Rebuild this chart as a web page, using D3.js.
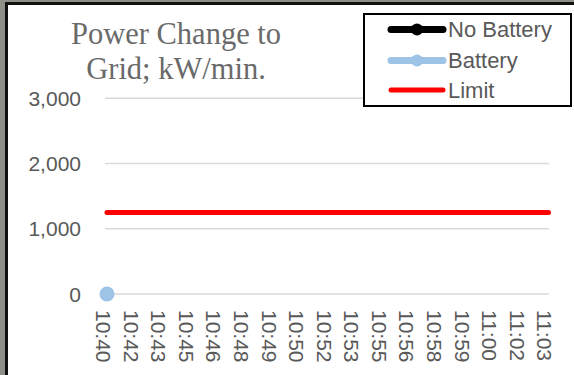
<!DOCTYPE html>
<html>
<head>
<meta charset="utf-8">
<script src="https://cdn.jsdelivr.net/npm/d3@7"></script>
<style>
  html, body { margin: 0; padding: 0; background: #8e8f88; }
  svg { display: block; }
</style>
</head>
<body>
<svg id="chart" width="574" height="375"></svg>
<script>
// Time stamps along the category axis
const times = ["10:40","10:42","10:43","10:45","10:46","10:48","10:49","10:50",
               "10:52","10:53","10:55","10:56","10:58","10:59","11:00","11:02","11:03"];
// Power change to grid (kW/min) per series; null = no reading
const noBattery = [null,null,null,null,null,null,null,null,null,null,null,null,null,null,null,null,null];
const battery   = [0,null,null,null,null,null,null,null,null,null,null,null,null,null,null,null,null];
const limit     = [1250,1250,1250,1250,1250,1250,1250,1250,1250,1250,1250,1250,1250,1250,1250,1250,1250];
const yTicks = [0, 1000, 2000, 3000];
const titleLines = ["Power Change to", "Grid; kW/min."];
const seriesNames = ["No Battery", "Battery", "Limit"];

const svg = d3.select("#chart");
const W = 574, H = 375;
const textGray = "#595959";

// Chart frame: grey surround, dark edge, white chart area
svg.append("rect").attr("width", W).attr("height", H).attr("fill", "#8e8f88");
svg.append("rect").attr("x", 5).attr("y", 2).attr("width", W).attr("height", H).attr("fill", "#111");
svg.append("rect").attr("x", 8).attr("y", 5).attr("width", W).attr("height", H).attr("fill", "#fff");

const plotLeft = 105, plotRight = 549;
const x = d3.scalePoint().domain(times).range([107, 548.5]);
const y = d3.scaleLinear().domain([0, 3000]).range([294, 98.3]);

// Horizontal gridlines
svg.append("g").selectAll("line").data(yTicks).join("line")
  .attr("x1", plotLeft).attr("x2", plotRight)
  .attr("y1", d => y(d)).attr("y2", d => y(d))
  .attr("stroke", "#d9d9d9").attr("stroke-width", 1.6);

// Y axis labels
const fmt = d3.format(",");
svg.append("g").selectAll("text").data(yTicks).join("text")
  .attr("x", 81).attr("y", d => y(d))
  .attr("dy", "0.36em")
  .attr("text-anchor", "end")
  .attr("font-family", "Liberation Sans, Arial, sans-serif")
  .attr("font-size", 21)
  .attr("fill", textGray)
  .text(d => fmt(d));

// X axis labels, rotated to read top to bottom
svg.append("g").selectAll("text").data(times).join("text")
  .attr("transform", d => `translate(${x(d) - 3.5},310) rotate(90)`)
  .attr("dy", "0.36em")
  .attr("text-anchor", "start")
  .attr("font-family", "Liberation Sans, Arial, sans-serif")
  .attr("font-size", 21)
  .attr("fill", textGray)
  .text(d => d);

// Series lines
const line = d3.line()
  .defined(d => d.v != null)
  .x(d => x(d.t)).y(d => y(d.v));
const rows = arr => times.map((t, i) => ({ t, v: arr[i] }));

svg.append("path").datum(rows(limit))
  .attr("d", line).attr("fill", "none")
  .attr("stroke", "#ff0000").attr("stroke-width", 5).attr("stroke-linecap", "round");

svg.append("path").datum(rows(noBattery))
  .attr("d", line).attr("fill", "none")
  .attr("stroke", "#000").attr("stroke-width", 7).attr("stroke-linecap", "round");
svg.append("path").datum(rows(battery))
  .attr("d", line).attr("fill", "none")
  .attr("stroke", "#9dc3e6").attr("stroke-width", 7).attr("stroke-linecap", "round");

svg.append("g").selectAll("circle").data(rows(noBattery).filter(d => d.v != null)).join("circle")
  .attr("cx", d => x(d.t)).attr("cy", d => y(d.v)).attr("r", 7.5).attr("fill", "#000");
svg.append("g").selectAll("circle").data(rows(battery).filter(d => d.v != null)).join("circle")
  .attr("cx", d => x(d.t)).attr("cy", d => y(d.v)).attr("r", 7.5).attr("fill", "#9dc3e6");

// Title
svg.append("g").selectAll("text").data(titleLines).join("text")
  .attr("x", 176).attr("y", (d, i) => 43.5 + i * 35)
  .attr("text-anchor", "middle")
  .attr("font-family", "Liberation Serif, Times New Roman, serif")
  .attr("font-size", 30.5)
  .attr("fill", "#6a6a6a")
  .text(d => d);

// Legend
const legend = svg.append("g");
legend.append("rect")
  .attr("x", 364).attr("y", 14).attr("width", 207).attr("height", 92)
  .attr("fill", "#fff").attr("stroke", "#000").attr("stroke-width", 2);
const legendStyles = [
  { color: "#000", width: 7, marker: true },
  { color: "#9dc3e6", width: 7, marker: true },
  { color: "#ff0000", width: 5, marker: false }
];
const legendY = [29.5, 60.5, 90];
seriesNames.forEach((name, i) => {
  const s = legendStyles[i];
  const g = legend.append("g").attr("transform", `translate(0,${legendY[i]})`);
  g.append("line").attr("x1", 391).attr("x2", 443).attr("y1", 0).attr("y2", 0)
    .attr("stroke", s.color).attr("stroke-width", s.width).attr("stroke-linecap", "round");
  if (s.marker) g.append("circle").attr("cx", 417).attr("cy", 0).attr("r", 6).attr("fill", s.color);
  g.append("text").attr("x", 448).attr("y", 0).attr("dy", "0.36em")
    .attr("font-family", "Liberation Sans, Arial, sans-serif")
    .attr("font-size", 22).attr("fill", textGray)
    .text(name);
});
</script>
</body>
</html>
